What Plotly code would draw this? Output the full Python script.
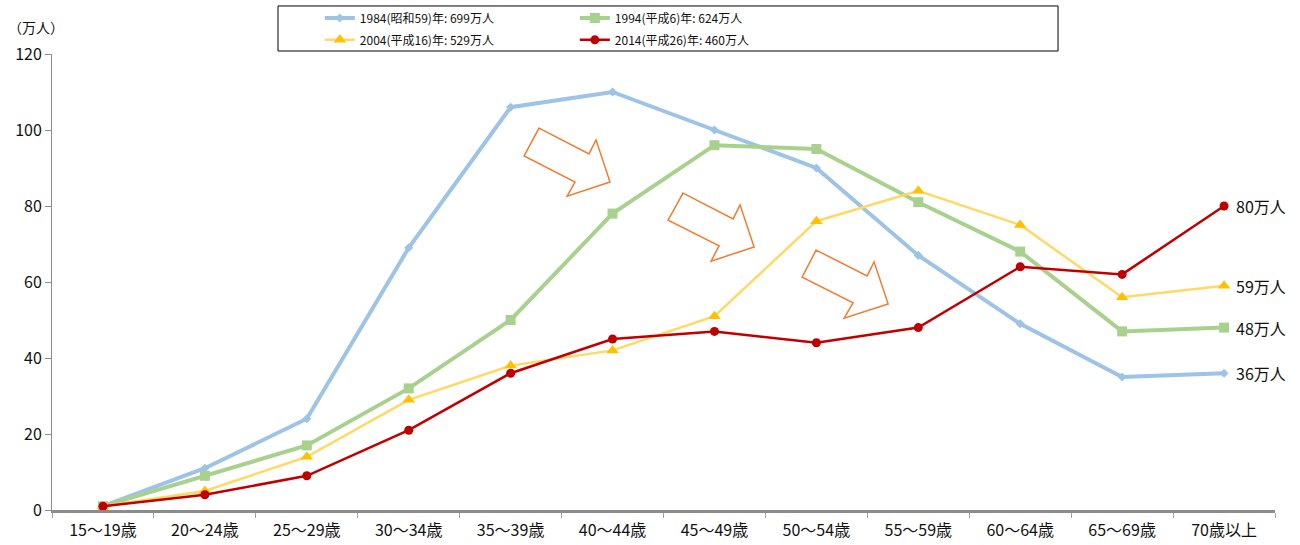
import plotly.graph_objects as go

categories = ["15～19歳", "20～24歳", "25～29歳", "30～34歳", "35～39歳", "40～44歳",
              "45～49歳", "50～54歳", "55～59歳", "60～64歳", "65～69歳", "70歳以上"]

names = ["1984(昭和59)年: 699万人", "1994(平成6)年: 624万人",
         "2004(平成16)年: 529万人", "2014(平成26)年: 460万人"]

v1984 = [1, 11, 24, 69, 106, 110, 100, 90, 67, 49, 35, 36]
v1994 = [1, 9, 17, 32, 50, 78, 96, 95, 81, 68, 47, 48]
v2004 = [1, 5, 14, 29, 38, 42, 51, 76, 84, 75, 56, 59]
v2014 = [1, 4, 9, 21, 36, 45, 47, 44, 48, 64, 62, 80]

end_labels = ["36万人", "48万人", "59万人", "80万人"]

y_ticks = [0, 20, 40, 60, 80, 100, 120]

FONT = "Noto Sans CJK JP"

styles = [
    dict(line=dict(color="#9DC3E6", width=4), marker=dict(symbol="diamond", size=7, color="#9DC3E6"), legend="legend"),
    dict(line=dict(color="#A9D18E", width=4), marker=dict(symbol="square", size=10, color="#A9D18E"), legend="legend"),
    dict(line=dict(color="#FFD966", width=2.5), marker=dict(symbol="triangle-up", size=11, color="#FFC000"), legend="legend2"),
    dict(line=dict(color="#C00000", width=2.5), marker=dict(symbol="circle", size=9, color="#C00000"), legend="legend2"),
]

series = [v1984, v1994, v2004, v2014]

fig = go.Figure()
for name, vals, st in zip(names, series, styles):
    fig.add_trace(go.Scatter(x=categories, y=vals, name=name, mode="lines+markers",
                             line=st["line"], marker=st["marker"], legend=st["legend"],
                             cliponaxis=False))

# end-of-line value labels
for vals, lab in zip(series, end_labels):
    fig.add_annotation(x=categories[-1], y=vals[-1], text=lab, showarrow=False,
                       xanchor="left", yanchor="middle", xshift=10,
                       font=dict(family=FONT, size=16, color="#111"))

# unit label
fig.add_annotation(xref="paper", yref="paper", x=-0.038, y=1.059, text="（万人）",
                   showarrow=False, xanchor="left", yanchor="middle",
                   font=dict(family=FONT, size=14, color="#111"))

# decorative block arrows (in category-index / value units)
n = len(categories)
ymax = 120
arrows = [
    [(4.279, 100.5), (4.769, 93.7), (4.838, 97.4), (4.975, 86.3), (4.554, 82.6), (4.632, 86.3), (4.132, 93.2)],
    [(5.692, 83.4), (6.183, 76.6), (6.251, 80.3), (6.389, 69.2), (5.967, 65.5), (6.045, 69.5), (5.545, 76.3)],
    [(6.997, 68.4), (7.498, 61.6), (7.566, 65.3), (7.704, 54.2), (7.272, 50.5), (7.360, 54.5), (6.860, 61.3)],
]
for pts in arrows:
    path = "M " + " L ".join(f"{(px + 0.5) / n:.5f},{py / ymax:.5f}" for px, py in pts) + " Z"
    fig.add_shape(type="path", path=path, xref="paper", yref="paper",
                  line=dict(color="#ED7D31", width=1.5), fillcolor="rgba(0,0,0,0)")

# legend frame
fig.add_shape(type="rect", xref="paper", yref="paper", x0=0.1848, x1=0.8226, y0=1.0066, y1=1.1053,
              line=dict(color="#000", width=1), fillcolor="rgba(0,0,0,0)")

legend_common = dict(orientation="h", xanchor="left", yanchor="middle", x=0.219,
                     entrywidth=210, entrywidthmode="pixels", bgcolor="rgba(0,0,0,0)",
                     font=dict(family=FONT, size=12, color="#111"), itemclick=False)

fig.update_layout(
    width=1300, height=545,
    margin=dict(l=52, r=25, t=54, b=35, autoexpand=False),
    plot_bgcolor="white", paper_bgcolor="white",
    legend=dict(y=1.079, **legend_common),
    legend2=dict(y=1.031, **legend_common),
    xaxis=dict(type="category", range=[-0.5, 11.5], showgrid=False, zeroline=False,
               showline=True, linecolor="#8C8C8C", linewidth=2.5, automargin=False,
               ticks="outside", tickson="boundaries", ticklen=5, tickcolor="#A0A0A0",
               ticklabelstandoff=4,
               tickfont=dict(family=FONT, size=16, color="#111")),
    yaxis=dict(range=[0, 120], tickvals=y_ticks, showgrid=False, zeroline=False,
               showline=True, linecolor="#8C8C8C", linewidth=1, automargin=False,
               ticks="outside", ticklen=6, tickcolor="#8C8C8C",
               tickfont=dict(family=FONT, size=16, color="#111")),
)

fig.write_html("out.html", config={"displayModeBar": False},
               post_script="document.body.style.margin='0';document.body.style.overflow='hidden';")
